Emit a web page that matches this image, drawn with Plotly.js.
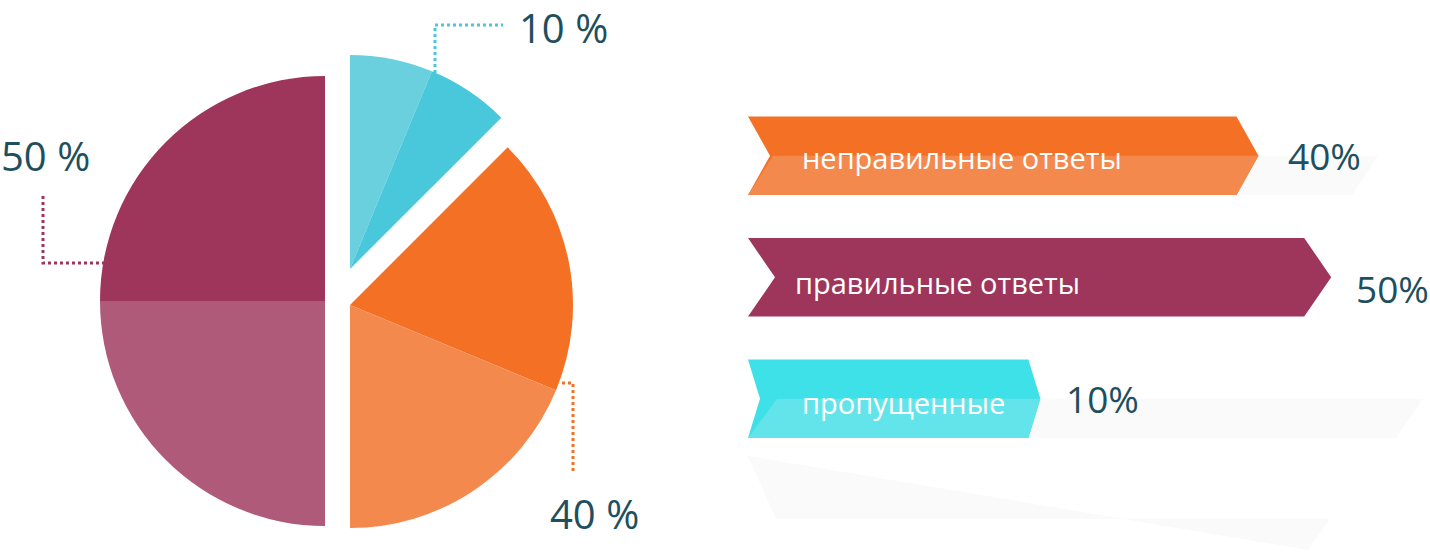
<!DOCTYPE html>
<html><head><meta charset="utf-8">
<script src="https://cdn.plot.ly/plotly-3.0.1.min.js"></script>
<style>html,body{margin:0;padding:0;background:#fff}#chart{width:1430px;height:558px}</style>
</head><body><div id="chart"></div>
<script>
// ================= DATA =================
const categories = ['неправильные ответы', 'правильные ответы', 'пропущенные'];
const percentValues = [40, 50, 10];
// pie segments clockwise from 12 o'clock; shares
const pieSegments = ['пропущенные', 'неправильные ответы', 'правильные ответы'];
const pieShares = [12.5, 37.5, 50];

// ================= STYLE / LAYOUT =================
const W = 1430, H = 558;
const FONT = '"Open Sans", "Noto Sans", sans-serif';
const TEXT_COLOR = '#1E4F5E';
const CLEAR = 'rgba(0,0,0,0)';
const SHADOW = '#FAFAFA';

const segStyle = {
  'пропущенные':         {c1: '#6AD0DE', c2: '#4AC8DB', cx: 350, cy: 269, r: 214, line: '#4AC8DB',
                          leader: [[435, 73], [435, 25], [503, 25]], lab: [519, 0], anchor: 'top'},
  'неправильные ответы': {c1: '#F37024', c2: '#F3894D', cx: 350, cy: 305, r: 223, line: '#F37024',
                          leader: [[562, 383], [573, 383], [573, 474]], lab: [550, 513], anchor: 'middle'},
  'правильные ответы':   {c1: '#AF5A79', c2: '#9E365B', cx: 325, cy: 301, r: 225, line: '#9E365B',
                          leader: [[43, 196], [43, 263], [106, 263]], lab: [1, 155.5], anchor: 'middle'}
};

const bannerStyle = [
  {top: '#F37024', bottom: '#F3894D', notch: 22, arrow: 22, lightInset: 25, textDx: 52, textDy: -2, pctDx: 27, pctDy: 0, shadowTop: 1378, shadowBottom: 1352},
  {top: '#9E365B', bottom: null,      notch: 27, arrow: 27, lightInset: 0,  textDx: 45, textDy: -5, pctDx: 23, pctDy: -11},
  {top: '#3FE1E9', bottom: '#62E4EA', notch: 12, arrow: 12, lightInset: 29, textDx: 52, textDy: -4, pctDx: 24, pctDy: 0, shadowTop: 1423, shadowBottom: 1396}
];

// bar axis scale (pixels)
const ZERO_PX = 967.7, PX_PER = 7.27, LEFT_PX = 748;
const ROW0_PX = 155.8, ROW_STEP = 121.5, HALF_H_PX = 39.3;
const px2x = p => (p - ZERO_PX) / PX_PER;
const xr = [px2x(0), px2x(W)];
const yr = [(H - ROW0_PX) / ROW_STEP, (0 - ROW0_PX) / ROW_STEP];
const base = px2x(LEFT_PX);
const hh = HALF_H_PX / ROW_STEP;

const traces = [];
const annotations = [];
const shapes = [];
const fx = p => p / W, fy = p => 1 - p / H;

// ---------- pie ----------
let cum = 0;
pieSegments.forEach((name, k) => {
  const s = segStyle[name];
  const share = pieShares[k];
  const vals = [], cols = [];
  if (cum > 0) { vals.push(cum); cols.push(CLEAR); }
  vals.push(share / 2, share / 2); cols.push(s.c1, s.c2);
  const rest = 100 - cum - share;
  if (rest > 0) { vals.push(rest); cols.push(CLEAR); }
  cum += share;
  traces.push({
    type: 'pie', values: vals, sort: false, direction: 'clockwise', rotation: 0,
    marker: {colors: cols, line: {width: 0}}, textinfo: 'none', hoverinfo: 'none', showlegend: false,
    domain: {x: [fx(s.cx - s.r), fx(s.cx + s.r)], y: [fy(s.cy + s.r), fy(s.cy - s.r)]}
  });
  const idx = categories.indexOf(name);
  annotations.push({
    xref: 'paper', yref: 'paper', x: fx(s.lab[0]), y: fy(s.lab[1]), xanchor: 'left', yanchor: s.anchor,
    borderpad: 0, borderwidth: 0,
    text: percentValues[idx] + ' %', showarrow: false, font: {family: FONT, size: 40, color: TEXT_COLOR}
  });
  const p = s.leader;
  shapes.push({
    type: 'path', xref: 'paper', yref: 'paper',
    path: 'M' + p.map(q => fx(q[0]) + ',' + fy(q[1])).join(' L'),
    line: {color: s.line, width: 3, dash: 'dot'}
  });
});

// ---------- banners ----------
function poly(xs, ys, color) {
  return {type: 'scatter', mode: 'lines', x: xs.concat([xs[0]]), y: ys.concat([ys[0]]), fill: 'toself',
    fillcolor: color, line: {width: 0, color: color}, hoverinfo: 'skip', showlegend: false, xaxis: 'x', yaxis: 'y'};
}
categories.forEach((cat, i) => {
  const v = percentValues[i], st = bannerStyle[i], c = i;
  const nd = st.notch / PX_PER, ad = st.arrow / PX_PER;
  if (st.shadowTop) {
    traces.push(poly([v, px2x(st.shadowTop), px2x(st.shadowBottom), v - ad], [c, c, c + hh, c + hh], SHADOW));
  }
  traces.push(poly([base, v - ad, v, v - ad, base, base + nd], [c - hh, c - hh, c, c + hh, c + hh, c], st.top));
  if (st.bottom) {
    traces.push(poly([base, base + st.lightInset / PX_PER, v, v - ad], [c + hh, c, c, c + hh], st.bottom));
  }
  annotations.push({
    xref: 'x', yref: 'y', x: base, y: c, xanchor: 'left', yanchor: 'middle', xshift: st.textDx, yshift: st.textDy,
    text: cat, showarrow: false, font: {family: FONT, size: 29, color: '#FFFFFF'}
  });
  annotations.push({
    xref: 'x', yref: 'y', x: v, y: c, xanchor: 'left', yanchor: 'middle', xshift: st.pctDx, yshift: st.pctDy,
    text: v + '%', showarrow: false, font: {family: FONT, size: 37, color: TEXT_COLOR}
  });
});

// faint reflection under the banners (decoration)
const refl = [[748, 456], [776, 519], [1330, 519], [1308, 550]];
shapes.push({
  type: 'path', xref: 'paper', yref: 'paper', layer: 'below',
  path: 'M' + refl.map(q => fx(q[0]) + ',' + fy(q[1])).join(' L') + ' Z',
  fillcolor: SHADOW, line: {width: 0}
});

const layout = {
  width: W, height: H, margin: {l: 0, r: 0, t: 0, b: 0},
  paper_bgcolor: '#FFFFFF', plot_bgcolor: 'rgba(0,0,0,0)', showlegend: false,
  xaxis: {domain: [0, 1], range: xr, visible: false, fixedrange: true},
  yaxis: {domain: [0, 1], range: yr, visible: false, fixedrange: true},
  annotations: annotations, shapes: shapes
};
Plotly.newPlot('chart', traces, layout, {staticPlot: true, displayModeBar: false});
</script>
</body></html>
